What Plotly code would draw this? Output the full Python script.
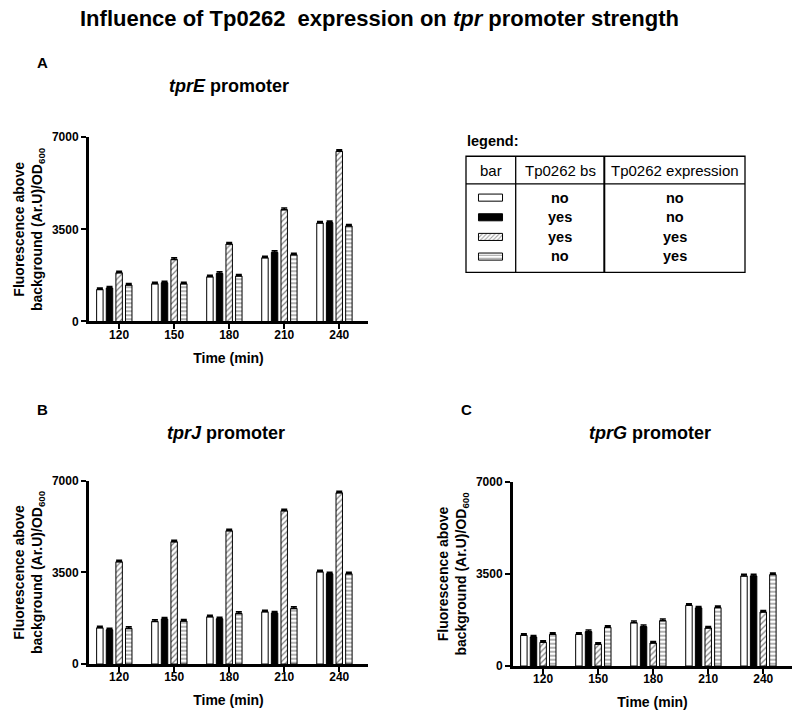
import plotly.graph_objects as go

FONT = "Liberation Sans, Arial, sans-serif"

# ---------------- data ----------------
times = ["120", "150", "180", "210", "240"]
yticks = [0, 3500, 7000]

# Panel A: tprE promoter
A_white = [1217, 1434, 1700, 2423, 3743]
A_black = [1270, 1472, 1826, 2625, 3756]
A_hatch = [1853, 2358, 2944, 4249, 6467]
A_lines = [1384, 1434, 1726, 2537, 3629]

# Panel B: tprJ promoter
B_white = [1386, 1628, 1806, 1997, 3525]
B_black = [1310, 1717, 1730, 1946, 3449]
B_hatch = [3907, 4671, 5091, 5855, 6542]
B_lines = [1361, 1641, 1933, 2124, 3449]

# Panel C: tprG promoter
C_white = [1168, 1205, 1648, 2308, 3424]
C_black = [1103, 1306, 1496, 2206, 3424]
C_hatch = [901, 825, 875, 1446, 2054]
C_lines = [1205, 1471, 1724, 2219, 3475]

err_value = 60  # small SEM caps drawn on top of each bar

legend_bs = ["no", "yes", "yes", "no"]
legend_expr = ["no", "no", "yes", "yes"]

# ---------------- helpers ----------------
W, H = 800, 720


def px(x):
    return x / W


def py(y):
    # screen-y (reference pixels) -> paper fraction, compensating page scaling
    return 1 - ((y - 7) / 0.979) / H


styles = [
    dict(color="white", shape=""),
    dict(color="black", shape=""),
    dict(color="white", shape="/"),
    dict(color="white", shape="-"),
]

pos = list(range(len(times)))

fig = go.Figure()

panels = [
    ("x", "y", [A_white, A_black, A_hatch, A_lines]),
    ("x2", "y2", [B_white, B_black, B_hatch, B_lines]),
    ("x3", "y3", [C_white, C_black, C_hatch, C_lines]),
]

for xa, ya, data in panels:
    for k, (vals, st) in enumerate(zip(data, styles)):
        fig.add_trace(go.Bar(
            x=pos, y=vals, xaxis=xa, yaxis=ya, offsetgroup=str(k),
            marker=dict(color=st["color"], line=dict(color="black", width=1),
                        pattern=dict(shape=st["shape"], fgcolor="black", bgcolor="white",
                                     size=4, solidity=0.3)),
            error_y=dict(type="constant", value=err_value, valueminus=0, symmetric=False,
                         color="black", thickness=1.5, width=3),
            showlegend=False, hoverinfo="skip",
        ))

# legend swatches on their own tiny axes
fig.add_trace(go.Bar(
    x=[1, 1, 1, 1], y=[0, 1, 2, 3], orientation="h", width=0.36,
    xaxis="x4", yaxis="y4",
    marker=dict(color=[s["color"] for s in styles],
                line=dict(color="black", width=1),
                pattern=dict(shape=[s["shape"] for s in styles], fgcolor="black",
                             bgcolor="white", size=3, solidity=0.35)),
    showlegend=False, hoverinfo="skip",
))

tickfont = dict(family=FONT, size=12, color="black", weight="bold")
titlefont = dict(family=FONT, size=14, color="black", weight="bold")


def xaxis(domain, anchor):
    return dict(
        domain=domain, anchor=anchor, range=[-0.46, 4.61],
        tickmode="array", tickvals=[p + 0.0875 for p in pos], ticktext=times,
        ticks="outside", ticklen=5, tickwidth=2, tickcolor="black",
        ticklabelstandoff=-5,
        showline=True, linecolor="black", linewidth=2.5,
        showgrid=False, zeroline=False, tickfont=tickfont,
        title=dict(text="Time (min)", font=titlefont, standoff=13),
    )


def yaxis(domain, anchor):
    return dict(
        domain=domain, anchor=anchor, range=[0, 7000],
        tickmode="array", tickvals=yticks, ticktext=[str(v) for v in yticks],
        ticks="outside", ticklen=5, tickwidth=2, tickcolor="black",
        showline=True, linecolor="black", linewidth=3,
        showgrid=False, zeroline=False, tickfont=tickfont,
        title=dict(text="Fluorescence above<br>background (Ar.U)/OD<sub>600</sub>",
                   font=titlefont, standoff=6),
    )


xA = [px(89), px(368)]
xC = [px(513), px(792)]
yA = [py(321), py(137)]
yB = [py(663), py(480)]
yC = [py(665), py(481)]

fig.update_layout(
    width=W, height=H,
    margin=dict(l=0, r=0, t=0, b=0),
    paper_bgcolor="white", plot_bgcolor="white",
    barmode="group", bargap=0.3, bargroupgap=0.33,
    font=dict(family=FONT, color="black"),
    xaxis=xaxis(xA, "y"), yaxis=yaxis(yA, "x"),
    xaxis2=xaxis(xA, "y2"), yaxis2=yaxis(yB, "x2"),
    xaxis3=xaxis(xC, "y3"), yaxis3=yaxis(yC, "x3"),
    xaxis4=dict(domain=[px(477.5), px(503.5)], anchor="y4", range=[-0.04, 1.04],
                visible=False, fixedrange=True),
    yaxis4=dict(domain=[py(266), py(187.5)], anchor="x4", range=[3.5, -0.5],
                visible=False, fixedrange=True),
)

# ---------------- legend table ----------------
shapes = []
lw = 1.3
shapes.append(dict(type="rect", xref="paper", yref="paper",
                   x0=px(466), x1=px(745), y0=py(272), y1=py(156),
                   line=dict(color="black", width=lw)))
shapes.append(dict(type="line", xref="paper", yref="paper",
                   x0=px(466), x1=px(745), y0=py(183.5), y1=py(183.5),
                   line=dict(color="black", width=lw)))
shapes.append(dict(type="line", xref="paper", yref="paper",
                   x0=px(515.7), x1=px(515.7), y0=py(272), y1=py(156),
                   line=dict(color="black", width=lw)))
shapes.append(dict(type="line", xref="paper", yref="paper",
                   x0=px(604.3), x1=px(604.3), y0=py(272), y1=py(156),
                   line=dict(color="black", width=2)))
fig.update_layout(shapes=shapes)

ann = []


def text(x, y, t, size, bold=False, xanchor="center"):
    ann.append(dict(x=px(x), y=py(y), xref="paper", yref="paper", text=t,
                    showarrow=False, xanchor=xanchor, yanchor="middle",
                    font=dict(family=FONT, size=size, color="black",
                              weight="bold" if bold else "normal")))


legend_fs = 15
text(465, 141, "legend:", 14.5, bold=True, xanchor="left")
text(490.5, 170.5, "bar", legend_fs)
text(560, 170.5, "Tp0262 bs", legend_fs)
text(675, 170.5, "Tp0262 expression", legend_fs)
row_y = [197.3, 216.5, 236.7, 256]
for ry, bs, ex in zip(row_y, legend_bs, legend_expr):
    text(560, ry, bs, 14.5, bold=True)
    text(675, ry, ex, 14.5, bold=True)

# ---------------- titles ----------------
text(379, 18, "Influence of Tp0262\u00a0 expression on <i>tpr</i> promoter strength", 22, bold=True)
text(42, 62, "A", 15, bold=True)
text(229, 86, "<i>tprE</i> promoter", 18, bold=True)
text(42, 409, "B", 15, bold=True)
text(226, 432, "<i>tprJ</i> promoter", 18, bold=True)
text(466, 409, "C", 15, bold=True)
text(650, 432, "<i>tprG</i> promoter", 18, bold=True)

fig.update_layout(annotations=ann)

fig.write_html(
    "out.html",
    config={"displayModeBar": False},
    post_script=("document.documentElement.style.overflow='hidden';"
                 "document.body.style.overflow='hidden';"
                 "document.body.style.margin='0';document.body.style.padding='0';"),
)
